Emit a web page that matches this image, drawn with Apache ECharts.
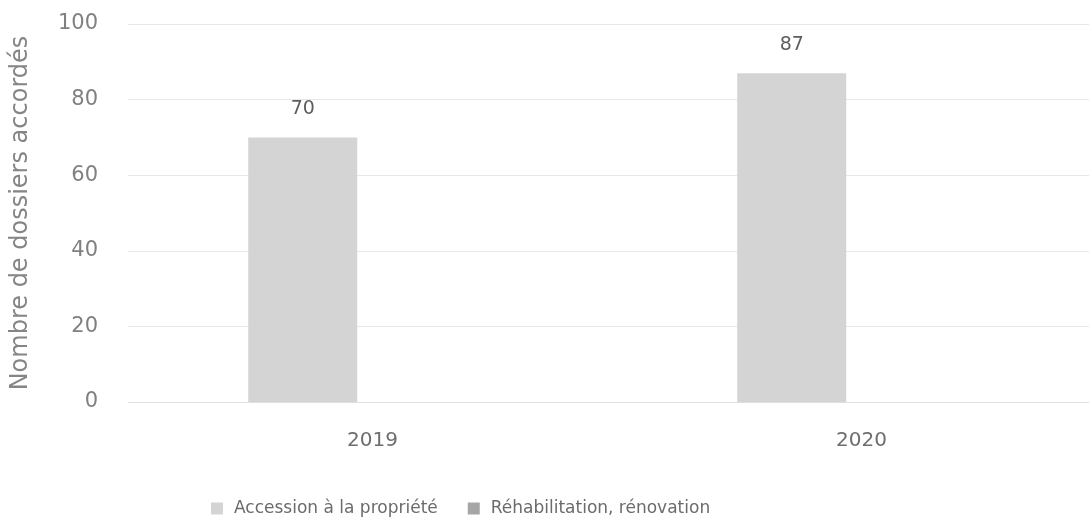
<!DOCTYPE html>
<html>
<head>
<meta charset="utf-8">
<script src="https://cdn.jsdelivr.net/npm/echarts@6/dist/echarts.min.js"></script>
<style>
  html, body { margin: 0; padding: 0; background: #ffffff; }
  #chart { width: 1089px; height: 522px; }
</style>
</head>
<body>
<div id="chart"></div>
<script>
// Dossiers accordés par année et par type de projet
const years = ['2019', '2020'];
const accession = [70, 87];
const rehabilitation = [null, null];
const seriesNames = ['Accession à la propriété', 'Réhabilitation, rénovation'];
const yMin = 0;
const yMax = 100;
const yStep = 20;
const yTitle = 'Nombre de dossiers accordés';

const FONT = 'DejaVu Sans';

const chart = echarts.init(document.getElementById('chart'), null, { renderer: 'canvas' });

chart.setOption({
  animation: false,
  backgroundColor: '#ffffff',
  textStyle: { fontFamily: FONT },
  // plot area runs slightly past the right edge of the canvas
  grid: { left: 128, width: 978, top: 24, bottom: 120, containLabel: false, outerBoundsMode: 'none' },
  legend: {
    data: seriesNames,
    left: 206,
    top: 495,
    itemWidth: 12,
    itemHeight: 12,
    itemGap: 30,
    icon: 'rect',
    textStyle: { color: '#6b6b6b', fontSize: 17, fontFamily: FONT, padding: [0, 0, 0, 6] }
  },
  xAxis: {
    type: 'category',
    data: years,
    axisLine: { show: true, lineStyle: { color: '#e0e0e0', width: 1 } },
    axisTick: { show: false },
    axisLabel: { color: '#6e6e6e', fontSize: 20, margin: 29, fontFamily: FONT }
  },
  yAxis: {
    type: 'value',
    min: yMin,
    max: yMax,
    interval: yStep,
    name: yTitle,
    nameLocation: 'middle',
    nameGap: 95,
    nameTextStyle: { color: '#858585', fontSize: 24, fontFamily: FONT },
    axisLine: { show: false },
    axisTick: { show: false },
    axisLabel: { color: '#808080', fontSize: 21, margin: 30, fontFamily: FONT },
    splitLine: { lineStyle: { color: '#e8e8e8', width: 1 } }
  },
  series: [
    {
      name: seriesNames[0],
      type: 'bar',
      data: accession,
      barWidth: 109,
      barGap: '28%',
      itemStyle: { color: '#d4d4d4' },
      label: {
        show: true,
        position: 'top',
        distance: 19,
        color: '#5e5e5e',
        fontSize: 19,
        fontFamily: FONT
      }
    },
    {
      name: seriesNames[1],
      type: 'bar',
      data: rehabilitation,
      barWidth: 109,
      barGap: '28%',
      itemStyle: { color: '#a6a6a6' }
    }
  ]
});
</script>
</body>
</html>
